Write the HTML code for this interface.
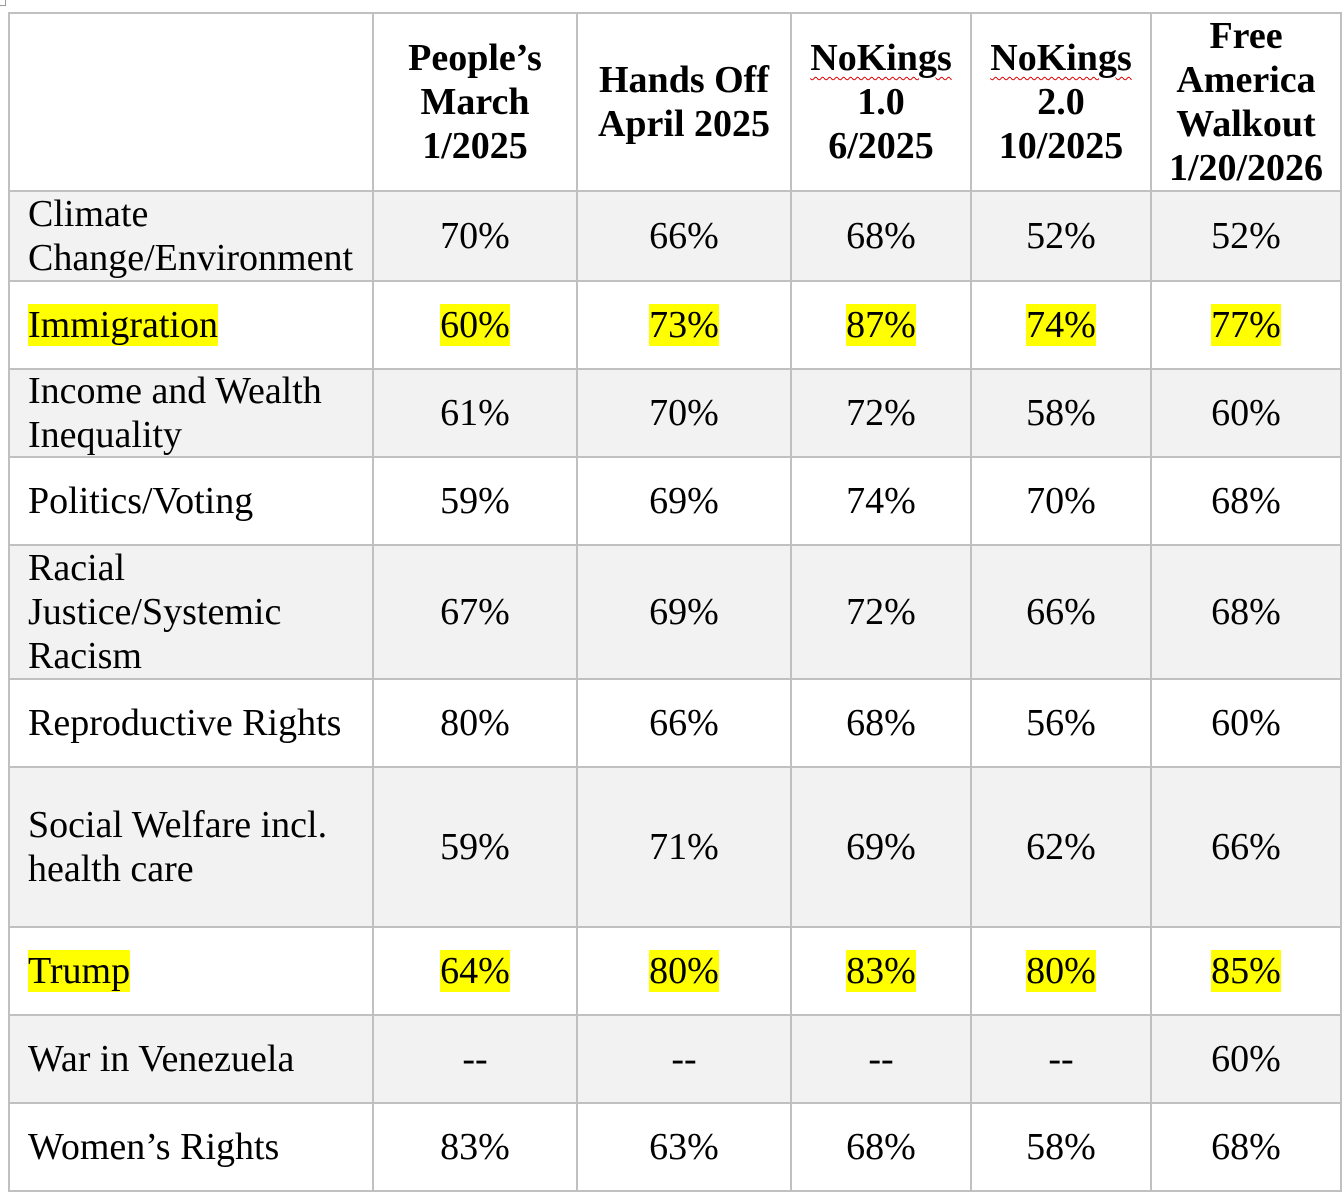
<!DOCTYPE html>
<html><head><meta charset="utf-8"><style>
*{margin:0;padding:0;box-sizing:border-box}
body{width:1344px;height:1188px;background:#fff;position:relative;overflow:hidden;font-family:"Liberation Serif","Times New Roman",serif;color:#000}
table{position:absolute;left:8px;top:12px;border-collapse:collapse;table-layout:fixed}
td{border:2px solid #c0c0c0;text-align:center;vertical-align:middle;font-size:38px;line-height:44px;padding:0;white-space:nowrap}
td>div{margin:-4px 0}
td.l{text-align:left;padding-left:18px}
tr.h td{font-weight:bold}
tr.g td{background:#f2f2f2}
.y{background:#ffff00}
.sq{text-decoration:underline wavy #e00000;text-decoration-thickness:1px;text-underline-offset:6px}
</style></head><body>
<div style="position:absolute;left:0;top:0;width:6px;height:6px;border:1px solid #999;border-top:none;border-left:none"></div>
<table>
<colgroup><col style="width:364px"><col style="width:204px"><col style="width:214px"><col style="width:180px"><col style="width:180px"><col style="width:190px"></colgroup>
<tr class="h" style="height:178px"><td>&nbsp;</td><td>People’s<br>March<br>1/2025</td><td>Hands Off<br>April 2025</td><td><span class="sq">NoKings</span><br>1.0<br>6/2025</td><td><span class="sq">NoKings</span><br>2.0<br>10/2025</td><td><div>Free<br>America<br>Walkout<br>1/20/2026</div></td></tr>
<tr class="g" style="height:90px"><td class="l"><div>Climate<br>Change/Environment</div></td><td>70%</td><td>66%</td><td>68%</td><td>52%</td><td>52%</td></tr>
<tr style="height:88px"><td class="l"><span class="y">Immigration</span></td><td><span class="y">60%</span></td><td><span class="y">73%</span></td><td><span class="y">87%</span></td><td><span class="y">74%</span></td><td><span class="y">77%</span></td></tr>
<tr class="g" style="height:88px"><td class="l"><div>Income and Wealth<br>Inequality</div></td><td>61%</td><td>70%</td><td>72%</td><td>58%</td><td>60%</td></tr>
<tr style="height:88px"><td class="l">Politics/Voting</td><td>59%</td><td>69%</td><td>74%</td><td>70%</td><td>68%</td></tr>
<tr class="g" style="height:134px"><td class="l"><div>Racial<br>Justice/Systemic<br>Racism</div></td><td>67%</td><td>69%</td><td>72%</td><td>66%</td><td>68%</td></tr>
<tr style="height:88px"><td class="l">Reproductive Rights</td><td>80%</td><td>66%</td><td>68%</td><td>56%</td><td>60%</td></tr>
<tr class="g" style="height:160px"><td class="l">Social Welfare incl.<br>health care</td><td>59%</td><td>71%</td><td>69%</td><td>62%</td><td>66%</td></tr>
<tr style="height:88px"><td class="l"><span class="y">Trump</span></td><td><span class="y">64%</span></td><td><span class="y">80%</span></td><td><span class="y">83%</span></td><td><span class="y">80%</span></td><td><span class="y">85%</span></td></tr>
<tr class="g" style="height:88px"><td class="l">War in Venezuela</td><td>--</td><td>--</td><td>--</td><td>--</td><td>60%</td></tr>
<tr style="height:88px"><td class="l">Women’s Rights</td><td>83%</td><td>63%</td><td>68%</td><td>58%</td><td>68%</td></tr>
</table>
</body></html>
